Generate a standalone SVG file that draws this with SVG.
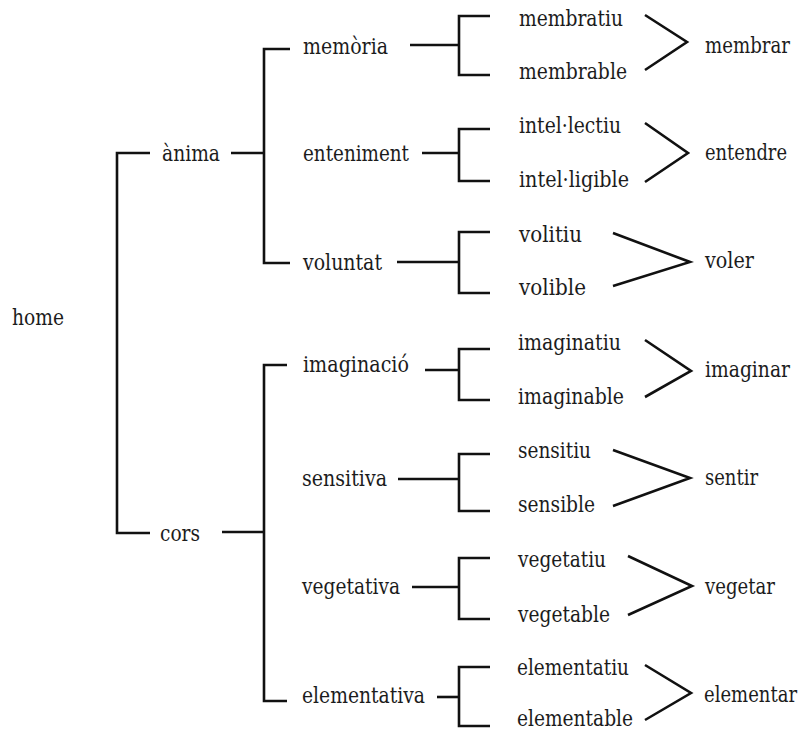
<svg xmlns="http://www.w3.org/2000/svg" width="801" height="730" viewBox="0 0 801 730">
<style>
.t text{font-family:'DejaVu Serif',serif;font-size:22px;fill:#1c1c1c}
.c{fill:none;stroke:#111;stroke-width:2.6;stroke-linejoin:miter;stroke-linecap:butt}
</style>
<rect width="801" height="730" fill="#fff"/>
<g id="connectors">
<path class="c" d="M150,153 H117 V533 H150"/>
<path class="c" d="M231,153 H264"/>
<path class="c" d="M222,532 H264"/>
<path class="c" d="M290,49 H264 V263 H290"/>
<path class="c" d="M287,365 H264 V701 H287"/>
<path class="c" d="M410,45 H459"/>
<path class="c" d="M422,153 H459"/>
<path class="c" d="M397,262 H459"/>
<path class="c" d="M425,370 H459"/>
<path class="c" d="M398,479 H459"/>
<path class="c" d="M412,587 H459"/>
<path class="c" d="M437,697 H459"/>
<path class="c" d="M490,16 H459 V75 H490"/>
<path class="c" d="M490,129 H459 V181 H490"/>
<path class="c" d="M490,232 H459 V293 H490"/>
<path class="c" d="M490,349 H459 V400 H490"/>
<path class="c" d="M490,454 H459 V511 H490"/>
<path class="c" d="M490,558 H459 V619 H490"/>
<path class="c" d="M490,667 H459 V726 H490"/>
<path class="c" d="M645,15 L687,42 L645,70"/>
<path class="c" d="M645,123 L688,153 L645,182"/>
<path class="c" d="M613,233 L690,262 L613,286"/>
<path class="c" d="M645,340 L691,371 L645,397"/>
<path class="c" d="M613,450 L690,478 L613,506"/>
<path class="c" d="M628,556 L692,586 L628,615"/>
<path class="c" d="M645,665 L691,693 L645,720"/>
</g>
<g class="t">
<g id="home"><text x="12" y="325" textLength="52" lengthAdjust="spacingAndGlyphs">home</text></g>
<g id="anima"><text x="162" y="161" textLength="58" lengthAdjust="spacingAndGlyphs">ànima</text></g>
<g id="cors"><text x="160" y="541" textLength="40" lengthAdjust="spacingAndGlyphs">cors</text></g>
<g id="memoria"><text x="303" y="54" textLength="85" lengthAdjust="spacingAndGlyphs">memòria</text></g>
<g id="enteniment"><text x="303" y="161" textLength="106" lengthAdjust="spacingAndGlyphs">enteniment</text></g>
<g id="voluntat"><text x="303" y="270" textLength="79" lengthAdjust="spacingAndGlyphs">voluntat</text></g>
<g id="imaginacio"><text x="303" y="372" textLength="106" lengthAdjust="spacingAndGlyphs">imaginació</text></g>
<g id="sensitiva"><text x="302" y="486" textLength="85" lengthAdjust="spacingAndGlyphs">sensitiva</text></g>
<g id="vegetativa"><text x="302" y="594" textLength="98" lengthAdjust="spacingAndGlyphs">vegetativa</text></g>
<g id="elementativa"><text x="302" y="703" textLength="123" lengthAdjust="spacingAndGlyphs">elementativa</text></g>
<g id="membratiu"><text x="519" y="26" textLength="104" lengthAdjust="spacingAndGlyphs">membratiu</text></g>
<g id="membrable"><text x="519" y="79" textLength="108" lengthAdjust="spacingAndGlyphs">membrable</text></g>
<g id="intellectiu"><text x="519" y="133" textLength="102" lengthAdjust="spacingAndGlyphs">intel·lectiu</text></g>
<g id="intelligible"><text x="519" y="187" textLength="110" lengthAdjust="spacingAndGlyphs">intel·ligible</text></g>
<g id="volitiu"><text x="519" y="242" textLength="63" lengthAdjust="spacingAndGlyphs">volitiu</text></g>
<g id="volible"><text x="519" y="295" textLength="67" lengthAdjust="spacingAndGlyphs">volible</text></g>
<g id="imaginatiu"><text x="518" y="350" textLength="103" lengthAdjust="spacingAndGlyphs">imaginatiu</text></g>
<g id="imaginable"><text x="518" y="404" textLength="106" lengthAdjust="spacingAndGlyphs">imaginable</text></g>
<g id="sensitiu"><text x="518" y="458" textLength="73" lengthAdjust="spacingAndGlyphs">sensitiu</text></g>
<g id="sensible"><text x="518" y="512" textLength="77" lengthAdjust="spacingAndGlyphs">sensible</text></g>
<g id="vegetatiu"><text x="518" y="567" textLength="88" lengthAdjust="spacingAndGlyphs">vegetatiu</text></g>
<g id="vegetable"><text x="518" y="622" textLength="92" lengthAdjust="spacingAndGlyphs">vegetable</text></g>
<g id="elementatiu"><text x="517" y="675" textLength="112" lengthAdjust="spacingAndGlyphs">elementatiu</text></g>
<g id="elementable"><text x="517" y="726" textLength="116" lengthAdjust="spacingAndGlyphs">elementable</text></g>
<g id="membrar"><text x="705" y="53" textLength="85" lengthAdjust="spacingAndGlyphs">membrar</text></g>
<g id="entendre"><text x="705" y="160" textLength="82" lengthAdjust="spacingAndGlyphs">entendre</text></g>
<g id="voler"><text x="705" y="268" textLength="49" lengthAdjust="spacingAndGlyphs">voler</text></g>
<g id="imaginar"><text x="705" y="377" textLength="85" lengthAdjust="spacingAndGlyphs">imaginar</text></g>
<g id="sentir"><text x="705" y="485" textLength="53" lengthAdjust="spacingAndGlyphs">sentir</text></g>
<g id="vegetar"><text x="705" y="594" textLength="70" lengthAdjust="spacingAndGlyphs">vegetar</text></g>
<g id="elementar"><text x="704" y="702" textLength="93" lengthAdjust="spacingAndGlyphs">elementar</text></g>
</g>
</svg>
